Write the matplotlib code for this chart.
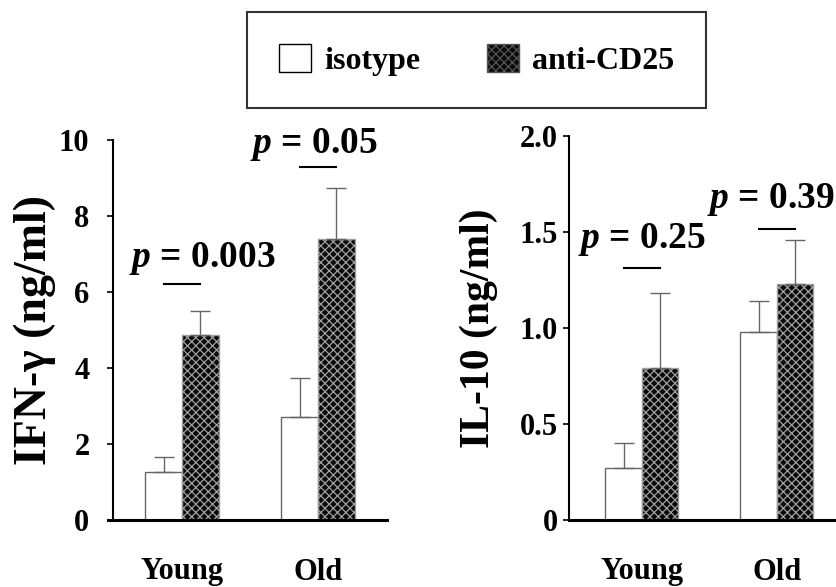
import numpy as np
import matplotlib
matplotlib.use("Agg")
import matplotlib.pyplot as plt
from matplotlib.patches import Patch

plt.rcParams['font.family'] = ['Liberation Serif', 'DejaVu Serif']
plt.rcParams['font.weight'] = 'bold'
plt.rcParams['mathtext.fontset'] = 'custom'
plt.rcParams['mathtext.it'] = 'Liberation Serif:italic:bold'
plt.rcParams['mathtext.rm'] = 'Liberation Serif:bold'
plt.rcParams['hatch.linewidth'] = 0.9

groups = ['Young', 'Old']
series = ['isotype', 'anti-CD25']

# IFN-gamma (ng/ml)
ifn_iso = [1.26, 2.71]
ifn_iso_err = [0.40, 1.03]
ifn_anti = [4.87, 7.39]
ifn_anti_err = [0.63, 1.35]
ifn_p = ['0.003', '0.05']
ifn_p_line = [6.21, 9.29]
ifn_p_text = [(0.15, 6.66), (0.97, 9.66)]

# IL-10 (ng/ml)
il_iso = [0.27, 0.98]
il_iso_err = [0.13, 0.16]
il_anti = [0.79, 1.23]
il_anti_err = [0.39, 0.23]
il_p = ['0.25', '0.39']
il_p_line = [1.31, 1.516]
il_p_text = [(0.0, 1.417), (0.956, 1.625)]

bw = 0.27
iso_style = dict(facecolor='white', edgecolor='#666666', linewidth=1.0)
anti_style = dict(facecolor='#0a0a0a', edgecolor='#a0a0a0', linewidth=1.0, hatch='xxxx')
err_style = dict(fmt='none', ecolor='#666666', elinewidth=1.0, capsize=7, capthick=1.0)


def draw_panel(ax, iso, iso_err, anti, anti_err, pvals, pline, ptext, ylim, ticks, ticklabels,
               ylabel, ylabel_size, xlim, tick_pad, label_x, spine_offset=0.0):
    # spine position first, it resets the tick styling
    ax.spines['left'].set_position(('axes', spine_offset))
    x = np.arange(len(groups))
    ax.bar(x - bw / 2, iso, bw, **iso_style)
    ax.bar(x + bw / 2, anti, bw, **anti_style)
    ax.errorbar(x - bw / 2, iso, yerr=[np.zeros(len(iso)), iso_err], **err_style)
    ax.errorbar(x + bw / 2, anti, yerr=[np.zeros(len(anti)), anti_err], **err_style)
    for i in range(len(groups)):
        ax.plot([x[i] - bw / 2, x[i] + bw / 2], [pline[i], pline[i]], color='black', lw=1.5,
                clip_on=False)
        ax.text(ptext[i][0], ptext[i][1], r'$p$ = ' + pvals[i], ha='center', va='baseline',
                fontsize=27, fontweight='bold', clip_on=False)
    ax.set_xlim(*xlim)
    ax.set_ylim(*ylim)
    ax.set_yticks(ticks)
    ax.set_yticklabels(ticklabels, fontsize=22, fontweight='bold')
    ax.set_xticks(x)
    ax.set_xticklabels(groups, fontsize=22, fontweight='bold')
    ax.tick_params(axis='x', length=0, pad=27)
    ax.tick_params(axis='y', direction='out', length=4, width=1.2, pad=tick_pad)
    for s in ['top', 'right']:
        ax.spines[s].set_visible(False)
    ax.spines['bottom'].set_linewidth(2.2)
    ax.spines['left'].set_linewidth(1.5)
    ax.set_ylabel(ylabel, fontsize=ylabel_size, fontweight='bold')
    ax.yaxis.set_label_coords(label_x, 0.5)


fig = plt.figure(figsize=(8.37, 5.87), dpi=100)

ax1 = fig.add_axes([108 / 837, 1 - 520 / 587, 279 / 837, 380 / 587])
draw_panel(ax1, ifn_iso, ifn_iso_err, ifn_anti, ifn_anti_err, ifn_p, ifn_p_line, ifn_p_text,
           (0, 10), [0, 2, 4, 6, 8, 10], ['0', '2', '4', '6', '8', '10'],
           'IFN-\u03b3 (ng/ml)', 33, (-0.544, 1.507), 13, -0.188, spine_offset=5 / 279)

ax2 = fig.add_axes([569 / 837, 1 - 520 / 587, 268 / 837, 384 / 587])
draw_panel(ax2, il_iso, il_iso_err, il_anti, il_anti_err, il_p, il_p_line, il_p_text,
           (0, 2.0), [0, 0.5, 1.0, 1.5, 2.0], ['0', '0.5', '1.0', '1.5', '2.0'],
           'IL-10 (ng/ml)', 30, (-0.54, 1.445), 4, -0.265)

handles = [Patch(label=series[0], **iso_style), Patch(label=series[1], **anti_style)]
handles[0].set_edgecolor('black')
handles[1].set_edgecolor('#555555')
leg = fig.legend(handles=handles, loc='center', bbox_to_anchor=(476.5 / 837, 1 - 60 / 587),
                 ncol=2, fancybox=False, frameon=True, edgecolor='black',
                 prop={'family': 'Liberation Serif', 'weight': 'bold', 'size': 23},
                 handlelength=1.0, handleheight=1.0, handletextpad=0.4,
                 columnspacing=2.1, borderpad=1.0, borderaxespad=0)
leg.get_frame().set_linewidth(1.5)

fig.savefig('out.png', dpi=100)
